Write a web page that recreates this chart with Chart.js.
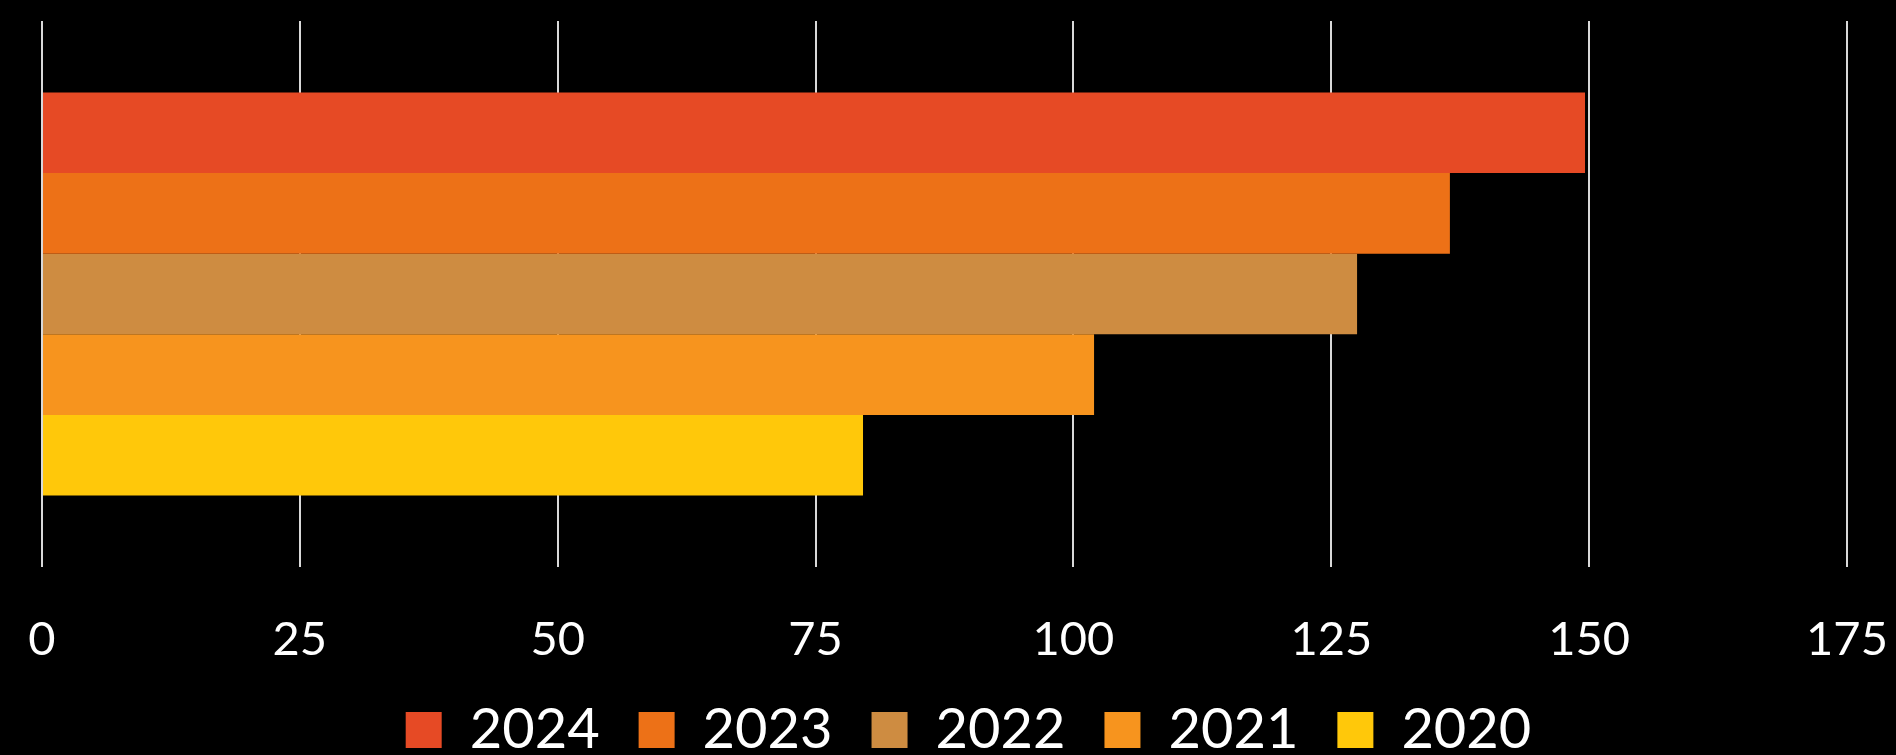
<!DOCTYPE html>
<html>
<head>
<meta charset="utf-8">
<script src="https://cdn.jsdelivr.net/npm/chart.js@4.4.1/dist/chart.umd.min.js"></script>
<style>
  html, body { margin: 0; padding: 0; background: #000; }
  #wrap { position: relative; width: 1896px; height: 755px; }
</style>
</head>
<body>
<div id="wrap"><canvas id="chart"></canvas></div>
<script>
// one category, one bar per year
const categories = [""];
const years = ["2024", "2023", "2022", "2021", "2020"];
const values = [149.6, 136.5, 127.5, 102, 79.6];
const colors = ["#E64A25", "#ED7117", "#CE8C41", "#F7941E", "#FFC80A"];
const xTicks = [0, 25, 50, 75, 100, 125, 150, 175];

const FONT = "Lato, 'Open Sans', sans-serif";

const datasets = years.map((y, i) => ({
  label: y,
  data: [values[i]],
  backgroundColor: colors[i],
  borderWidth: 0,
  categoryPercentage: 0.738,
  barPercentage: 1.0,
}));

// nudge the legend row a little to the right
const legendShift = {
  id: "legendShift",
  afterLayout(chart) {
    chart.legend.left += 24;
    chart.legend.right += 24;
  },
};

const ctx = document.getElementById("chart").getContext("2d");
new Chart(ctx, {
  type: "bar",
  data: { labels: categories, datasets: datasets },
  plugins: [legendShift],
  options: {
    indexAxis: "y",
    responsive: true,
    maintainAspectRatio: false,
    animation: false,
    layout: { padding: { left: 42, right: 49, top: 21, bottom: -13 } },
    plugins: {
      tooltip: { enabled: false },
      legend: {
        position: "bottom",
        labels: {
          color: "#ffffff",
          boxWidth: 36,
          boxHeight: 36,
          padding: 39,
          font: { family: FONT, size: 56 },
        },
      },
    },
    scales: {
      x: {
        min: 0,
        max: 175,
        afterBuildTicks: (axis) => {
          axis.ticks = xTicks.map(v => ({ value: v }));
        },
        grid: {
          color: "#d9d9d9",
          lineWidth: 2,
          drawTicks: true,
          tickLength: 49,
          tickColor: "rgba(0,0,0,0)",
        },
        border: { display: false },
        ticks: {
          color: "#ffffff",
          padding: 0,
          maxRotation: 0,
          font: { family: FONT, size: 47, lineHeight: 1.0 },
        },
      },
      y: {
        display: false,
      },
    },
  },
});
</script>
</body>
</html>
